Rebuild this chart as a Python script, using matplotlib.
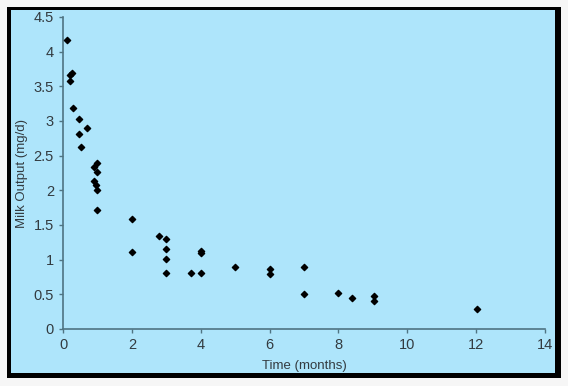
import matplotlib
matplotlib.use('Agg')
import matplotlib.pyplot as plt
from matplotlib.patches import Rectangle
from matplotlib.ticker import FuncFormatter

# time after onset (months) and milk output (mg/d)
months = [0.12, 0.25, 0.21, 0.21, 0.29, 0.46, 0.69, 0.47, 0.52,
          0.98, 0.91, 0.98, 0.91, 0.96, 0.98, 1.0,
          2.0, 2.0, 2.79, 3.0, 3.0, 3.0, 3.0,
          3.71, 4.0, 4.0, 4.0, 5.0, 6.0, 6.0, 7.0, 7.0,
          8.0, 8.38, 9.02, 9.02, 12.03]
output = [4.17, 3.69, 3.66, 3.57, 3.19, 3.03, 2.9, 2.81, 2.63,
          2.39, 2.33, 2.26, 2.13, 2.08, 2.0, 1.71,
          1.59, 1.11, 1.34, 1.30, 1.15, 1.01, 0.81,
          0.81, 0.81, 1.10, 1.13, 0.90, 0.87, 0.79, 0.90, 0.51,
          0.52, 0.45, 0.47, 0.40, 0.29]

plt.rcParams['font.family'] = ['Liberation Sans', 'DejaVu Sans']

fig = plt.figure(figsize=(5.68, 3.86), dpi=100, facecolor='#f6f6f6')

# black frame with blue panel
fig.patches.append(Rectangle((7/568, 1-378/386), 554/568, 371/386,
                             transform=fig.transFigure, facecolor='black',
                             edgecolor='none', zorder=0))
fig.patches.append(Rectangle((11/568, 1-373/386), 544/568, 363/386,
                             transform=fig.transFigure, facecolor='#aee5fb',
                             edgecolor='none', zorder=1))

ax = fig.add_axes([63/568, 1-329/386, 482/568, 312/386])
ax.set_zorder(5)
ax.set_facecolor('none')
ax.scatter(months, output, marker='D', s=10, color='black', zorder=3,
           clip_on=False)

ax.set_xlim(0, 14)
ax.set_ylim(0, 4.5)
ax.set_xticks(range(0, 15, 2))
ax.set_yticks([i*0.5 for i in range(10)])
ax.yaxis.set_major_formatter(FuncFormatter(lambda v, p: '%g' % v))

axcol = '#4f7482'
for s in ['top', 'right']:
    ax.spines[s].set_visible(False)
for s in ['left', 'bottom']:
    ax.spines[s].set_color(axcol)
    ax.spines[s].set_linewidth(1.2)
ax.tick_params(colors=axcol, labelcolor='#333b40', labelsize=10.5,
               length=3, width=1)

ax.set_xlabel('Time (months)', fontsize=9.5, color='#333b40', labelpad=6)
ax.set_ylabel('Milk Output (mg/d)', fontsize=9.5, color='#333b40', labelpad=4)

plt.savefig('out.png', dpi=100, facecolor=fig.get_facecolor())
